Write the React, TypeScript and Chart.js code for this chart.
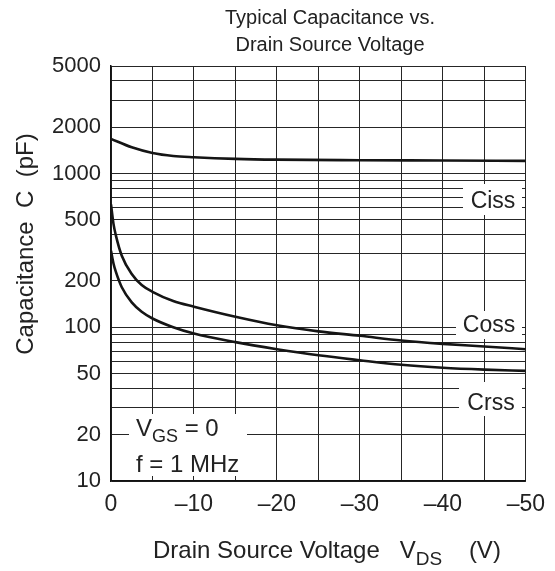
import React, { useEffect, useRef } from "react";
import { Chart, registerables } from "chart.js";

Chart.register(...registerables);

// Drain-source voltage (V) and capacitance (pF) for each curve
const cissV = [0, -2.5, -5, -7.5, -10, -15, -20, -30, -40, -50];
const cissC = [1680, 1480, 1360, 1300, 1276, 1245, 1230, 1220, 1215, 1208];

const cossV = [0, -0.3, -0.6, -1.3, -2.5, -3.7, -5, -7.5, -10, -15, -20, -25, -30, -35, -40, -45, -50];
const cossC = [630, 470, 393, 292, 222, 188, 170, 148, 136, 117, 103, 94, 88, 82, 78, 75, 72];

const crssV = [0, -0.3, -0.6, -1.3, -2.5, -3.7, -5, -7.5, -10, -15, -20, -25, -30, -35, -40, -45, -50];
const crssC = [314, 260, 228, 182, 145, 126, 114, 100, 91, 80, 72, 65.7, 61, 57, 54.5, 53, 52];

const yGridValues = [10, 20, 30, 40, 50, 60, 70, 80, 90, 100, 200, 300, 400, 500, 600, 700, 800, 900, 1000, 2000, 3000, 4000, 5000];
const yLabelValues = [10, 20, 50, 100, 200, 500, 1000, 2000, 5000];
const xLabelValues = [0, -10, -20, -30, -40, -50];

const titleLines = ["Typical Capacitance vs.", "Drain Source Voltage"];
const curveNames = ["Ciss", "Coss", "Crss"];

const FONT = "'Liberation Sans', Arial, Helvetica, sans-serif";
const TEXT = "#222";

function toPoints(xs: number[], ys: number[]) {
  return xs.map((x, i) => ({ x, y: ys[i] }));
}

function drawSub(ctx: CanvasRenderingContext2D, x: number, y: number, parts: [string, boolean][], size: number, subSize: number, drop: number) {
  let cx = x;
  for (const [t, sub] of parts) {
    ctx.font = `${sub ? subSize : size}px ${FONT}`;
    ctx.fillText(t, cx, sub ? y + drop : y);
    cx += ctx.measureText(t).width;
  }
  return cx;
}

const textPlugin = {
  id: "texts",
  beforeDatasetsDraw(chart: any) {
    const ctx: CanvasRenderingContext2D = chart.ctx;
    ctx.save();
    // white label boxes
    ctx.fillStyle = "#fff";
    ctx.fillRect(463, 184, 59, 31);
    ctx.fillRect(456, 311, 66, 28);
    ctx.fillRect(459, 382, 63, 34);
    ctx.fillRect(129, 414, 118, 62);

    ctx.fillStyle = TEXT;
    ctx.font = `23px ${FONT}`;
    ctx.textAlign = "center";
    ctx.textBaseline = "middle";
    ctx.fillText(curveNames[0], 493, 202);
    ctx.fillText(curveNames[1], 489, 326);
    ctx.fillText(curveNames[2], 491, 404);

    ctx.textAlign = "left";
    ctx.textBaseline = "alphabetic";
    drawSub(ctx, 136, 436, [["V", false], ["GS", true], [" = 0", false]], 24, 18, 6);
    ctx.font = `24px ${FONT}`;
    ctx.fillText("f = 1 MHz", 136, 472);
    ctx.restore();
  },
  afterDraw(chart: any) {
    const ctx: CanvasRenderingContext2D = chart.ctx;
    ctx.save();
    ctx.fillStyle = TEXT;
    ctx.font = `20px ${FONT}`;
    ctx.textAlign = "center";
    ctx.textBaseline = "alphabetic";
    ctx.fillText(titleLines[0], 330, 24);
    ctx.fillText(titleLines[1], 330, 51);

    // x axis title with subscript
    ctx.textAlign = "left";
    drawSub(ctx, 153, 558, [["Drain Source Voltage   V", false], ["DS", true], ["    (V)", false]], 24, 19, 7);

    // y axis title
    ctx.translate(33, 244);
    ctx.rotate(-Math.PI / 2);
    ctx.textAlign = "center";
    ctx.font = `24px ${FONT}`;
    ctx.fillText("Capacitance  C  (pF)", 0, 0);
    ctx.restore();
  },
};

export default function App() {
  const ref = useRef<HTMLCanvasElement | null>(null);
  useEffect(() => {
    if (!ref.current) return;
    Chart.defaults.font.family = FONT;
    const line = {
      borderColor: "#151515",
      borderWidth: 2.6,
      pointRadius: 0,
      cubicInterpolationMode: "monotone" as const,
      fill: false,
    };
    const chart = new Chart(ref.current, {
      type: "line",
      data: {
        datasets: [
          { ...line, label: curveNames[0], data: toPoints(cissV, cissC) },
          { ...line, label: curveNames[1], data: toPoints(cossV, cossC) },
          { ...line, label: curveNames[2], data: toPoints(crssV, crssC) },
        ],
      },
      options: {
        animation: false,
        responsive: false,
        devicePixelRatio: 1,
        layout: { padding: { top: 66, right: 29, left: 0, bottom: 0 } },
        plugins: {
          legend: { display: false },
          tooltip: { enabled: false },
          title: { display: false },
        },
        scales: {
          x: {
            type: "linear",
            min: -50,
            max: 0,
            reverse: true,
            afterFit: (s: any) => {
              s.height = 90;
            },
            ticks: {
              stepSize: 5,
              autoSkip: false,
              maxRotation: 0,
              padding: 10,
              color: TEXT,
              font: { size: 23, family: FONT },
              callback: (v: any) => {
                const n = Number(v);
                if (!xLabelValues.includes(n)) return "";
                return n === 0 ? "0" : "\u2013" + Math.abs(n);
              },
            },
            grid: { color: "#262626", lineWidth: 1, drawTicks: false },
            border: { color: "#111", width: 1.5 },
          },
          y: {
            type: "logarithmic",
            min: 10,
            max: 5000,
            afterFit: (s: any) => {
              s.width = 111;
            },
            afterBuildTicks: (s: any) => {
              s.ticks = yGridValues.map((v) => ({ value: v }));
            },
            ticks: {
              autoSkip: false,
              padding: 10,
              color: TEXT,
              font: { size: 22, family: FONT },
              callback: (v: any) => (yLabelValues.includes(Number(v)) ? String(v) : ""),
            },
            grid: { color: "#262626", lineWidth: 1, drawTicks: false },
            border: { color: "#111", width: 1.5 },
          },
        },
      },
      plugins: [textPlugin],
    } as any);
    return () => chart.destroy();
  }, []);

  return (
    <div style={{ position: "fixed", left: 0, top: 0, width: 555, height: 571, background: "#fff" }}>
      <canvas ref={ref} width={555} height={571} style={{ display: "block" }} />
    </div>
  );
}
